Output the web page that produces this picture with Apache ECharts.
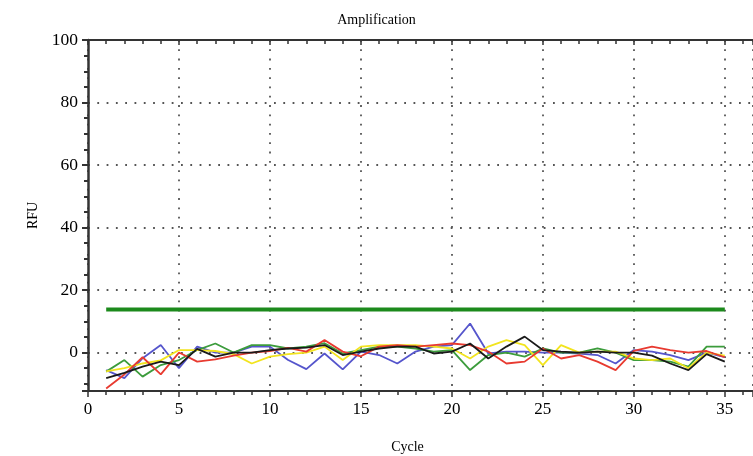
<!DOCTYPE html>
<html>
<head>
<meta charset="utf-8">
<script src="https://cdn.jsdelivr.net/npm/echarts@6/dist/echarts.min.js"></script>
<style>html,body{margin:0;padding:0;background:#fff}#c{width:753px;height:456px}</style>
</head>
<body>
<div id="c"></div>
<script>
var cycles = [1,2,3,4,5,6,7,8,9,10,11,12,13,14,15,16,17,18,19,20,21,22,23,24,25,26,27,28,29,30,31,32,33,34,35];
var redRFU = [-11.5,-7,-1.5,-7,0,-2.9,-2.2,-1,0,0.5,1.5,0.3,4,0.3,-1.2,1.9,2.4,1.9,2.4,2.9,2.4,0.3,-3.5,-2.9,1.3,-1.9,-0.8,-2.9,-5.6,0.5,1.9,0.8,0,0.5,-1.5];
var blueRFU = [-5.6,-8.2,-1.8,2.4,-5,1.9,0,0,1.9,1.9,-2.4,-5.3,-0.3,-5.4,0.3,-0.8,-3.5,0.3,1.9,2.4,9.3,-0.3,0.3,0.3,0,0,-0.3,-0.8,-3.5,0.8,0.3,-0.8,-2.4,0,-1.5];
var greenRFU = [-6.1,-2.4,-7.7,-4,-2.4,0.8,2.9,0,2.4,2.4,1.3,1.9,3,-0.3,0.8,1.9,1.9,1.3,0.3,0.8,-5.6,-0.8,0,-1.3,1.3,0,0,1.3,0,-2.4,-2.4,-2.9,-4.5,1.9,1.9];
var yellowRFU = [-6,-5,-3.5,-2.5,0.8,0.8,0.5,-0.5,-3.5,-1.3,-0.5,0,1.9,-2.4,1.9,2.4,2.4,2.4,1.9,1.3,-1.9,1.9,4,2.4,-4,2.4,0,0.3,0.3,-1.9,-2.4,-1.9,-5,0,-1];
var blackRFU = [-8.2,-6.5,-4.5,-2.9,-4,1.2,-1.3,0,0,0.8,1.3,1.6,2.4,-0.8,0.3,1.3,1.9,1.9,-0.3,0.3,2.9,-1.9,1.9,5.1,0.8,0.3,0,0.3,0,0,-1,-3.5,-5.6,-0.5,-2.9];
var thresholdCycles = [1, 35];
var thresholdRFU = 13.8;
var xTickLabels = [0,5,10,15,20,25,30,35];
var yTickLabels = [0,20,40,60,80,100];

function pairs(ys){ return cycles.map(function(c,i){ return [c, ys[i]]; }); }
var FONT = 'Liberation Serif';
var chart = echarts.init(document.getElementById('c'), null, {renderer:'canvas'});
var axisCol = '#333';
var gridLine = {show:true, lineStyle:{color:'#555', width:1.8, type:[1.8,7.5]}};
function lineSeries(name, ys, color){
  return {name:name, type:'line', data:pairs(ys), symbol:'none', smooth:false,
    lineStyle:{color:color, width:1.8}, itemStyle:{color:color}, z:3};
}
chart.setOption({
  animation:false,
  backgroundColor:'#fff',
  title:{text:'Amplification', left:'center', top:8,
    textStyle:{fontFamily:FONT, fontSize:14, fontWeight:'normal', color:'#000'}},
  grid:{left:88, right:0, top:40, bottom:65, containLabel:false, outerBoundsMode:'none'},
  xAxis:[{
    type:'value', min:0, max:36.55, interval:5, position:'bottom',
    name:'Cycle', nameLocation:'middle', nameGap:49,
    nameTextStyle:{fontFamily:FONT, fontSize:14, color:'#000', padding:[0,26,0,0]},
    axisLine:{show:true, onZero:false, lineStyle:{color:axisCol, width:2}},
    axisTick:{show:true, length:6, lineStyle:{color:axisCol, width:1.5}},
    minorTick:{show:true, splitNumber:5, length:4, lineStyle:{color:axisCol, width:1.5}},
    axisLabel:{fontFamily:FONT, fontSize:17, color:'#000', margin:10,
      formatter:function(v){ return xTickLabels.indexOf(v)>=0 ? String(v) : ''; }},
    splitLine:gridLine
  },{
    type:'value', min:0, max:36.55, interval:5, position:'top',
    axisLine:{show:true, onZero:false, lineStyle:{color:axisCol, width:2}},
    axisTick:{show:true, inside:true, length:5, lineStyle:{color:axisCol, width:1.5}},
    minorTick:{show:true, splitNumber:5, length:4, lineStyle:{color:axisCol, width:1.5}},
    axisLabel:{show:false}, splitLine:{show:false}
  }],
  yAxis:{
    type:'value', min:-12.3, max:100, splitNumber:5,
    name:'RFU', nameLocation:'middle', nameGap:48,
    nameTextStyle:{fontFamily:FONT, fontSize:14, color:'#000'},
    axisLine:{show:true, onZero:false, lineStyle:{color:axisCol, width:2.5}},
    axisTick:{show:true, length:6, lineStyle:{color:axisCol, width:2}},
    minorTick:{show:true, splitNumber:4, length:4, lineStyle:{color:axisCol, width:2}},
    axisLabel:{fontFamily:FONT, fontSize:17.5, color:'#000', margin:10,
      formatter:function(v){ return yTickLabels.indexOf(v)>=0 ? String(v) : ''; }},
    splitLine:gridLine
  },
  series:[
    lineSeries('Blue', blueRFU, '#5555cc'),
    lineSeries('Green', greenRFU, '#3c9c3c'),
    lineSeries('Yellow', yellowRFU, '#f2e41e'),
    lineSeries('Red', redRFU, '#e83a30'),
    lineSeries('Black', blackRFU, '#1a1a1a'),
    {name:'Threshold', type:'line', symbol:'none',
     data:thresholdCycles.map(function(c){ return [c, thresholdRFU]; }),
     lineStyle:{color:'#1c8a1c', width:4}, z:4}
  ]
});
</script>
</body>
</html>
